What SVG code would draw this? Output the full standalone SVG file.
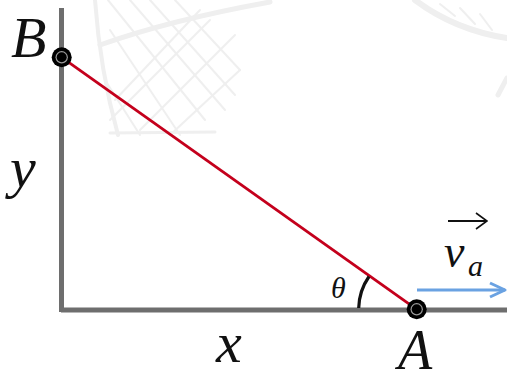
<svg xmlns="http://www.w3.org/2000/svg" width="507" height="377" viewBox="0 0 507 377">
<style>
.wm{fill:none;stroke:#efefef;stroke-linecap:round}
.axis{stroke:#6e6e6e;stroke-width:5;fill:none}
.lbl{font-family:"Liberation Serif","DejaVu Serif",serif;font-style:italic;fill:#111}
</style>
<defs>
<marker id="vhead" viewBox="0 0 20 20" refX="19" refY="10" markerWidth="20" markerHeight="20" markerUnits="userSpaceOnUse" orient="auto">
<path d="M8 2 L19 10 L8 18" fill="none" stroke="#111" stroke-width="1.6"/>
</marker>
</defs>
<rect width="507" height="377" fill="#fff"/>
<g id="watermark">
<path class="wm" stroke-width="5" d="M100 45 Q170 20 270 2"/>
<path class="wm" stroke-width="4" d="M95 0 Q100 70 118 135"/>
<path class="wm" stroke-width="2" d="M108 0 L205 120 M130 0 L225 110 M150 0 L235 95 M175 0 L240 70 M110 30 L180 135 M105 80 L140 135"/>
<path class="wm" stroke-width="2" d="M110 120 L210 20 M115 100 L200 10 M140 130 L235 35 M170 135 L240 70"/>
<path class="wm" stroke-width="3" d="M110 133 L215 132"/>
<path class="wm" stroke-width="6" d="M415 0 Q455 30 507 38"/>
<path class="wm" stroke-width="2" d="M440 4 L455 16 M460 8 L475 24 M480 14 L492 30"/>
<path class="wm" stroke-width="5" d="M507 78 L498 95"/>
</g>
<g id="axes">
<line class="axis" x1="61.5" y1="8" x2="61.5" y2="312"/>
<line class="axis" x1="61" y1="310" x2="507" y2="310"/>
</g>
<g id="connectors">
<line id="rod" x1="61.7" y1="57.3" x2="416.7" y2="309.3" stroke="#c4001c" stroke-width="2.8"/>
<path id="angle-arc" d="M358.7 308 A58 58 0 0 1 369 276.5" fill="none" stroke="#111" stroke-width="3.2"/>
<line id="velocity" x1="417" y1="290" x2="505" y2="290" stroke="#6aa2e2" stroke-width="3"/>
<path d="M490 283 L505 290 L490 297" fill="none" stroke="#6aa2e2" stroke-width="3" stroke-linejoin="round"/>
<line id="vec-arrow" x1="448" y1="221" x2="487" y2="221" stroke="#111" stroke-width="1.8" marker-end="url(#vhead)"/>
</g>
<g id="node-B">
<circle cx="61.7" cy="57.3" r="10" fill="#000"/>
<circle cx="61.7" cy="57.3" r="6.2" fill="#9a9a9a"/>
<circle cx="61.7" cy="57.3" r="5" fill="#000"/>
<text class="lbl" x="11" y="57" font-size="58">B</text>
</g>
<g id="node-A">
<circle cx="416.7" cy="309.3" r="10" fill="#000"/>
<circle cx="416.7" cy="309.3" r="6.2" fill="#9a9a9a"/>
<circle cx="416.7" cy="309.3" r="5" fill="#000"/>
<text class="lbl" x="398" y="369" font-size="56">A</text>
</g>
<g id="labels">
<text class="lbl" x="10" y="187" font-size="58">y</text>
<text class="lbl" x="216" y="362" font-size="58">x</text>
<text class="lbl" x="331" y="298" font-size="30">θ</text>
<text class="lbl" x="444" y="267" font-size="46">v</text>
<text class="lbl" x="468" y="276" font-size="30">a</text>
</g>
</svg>
